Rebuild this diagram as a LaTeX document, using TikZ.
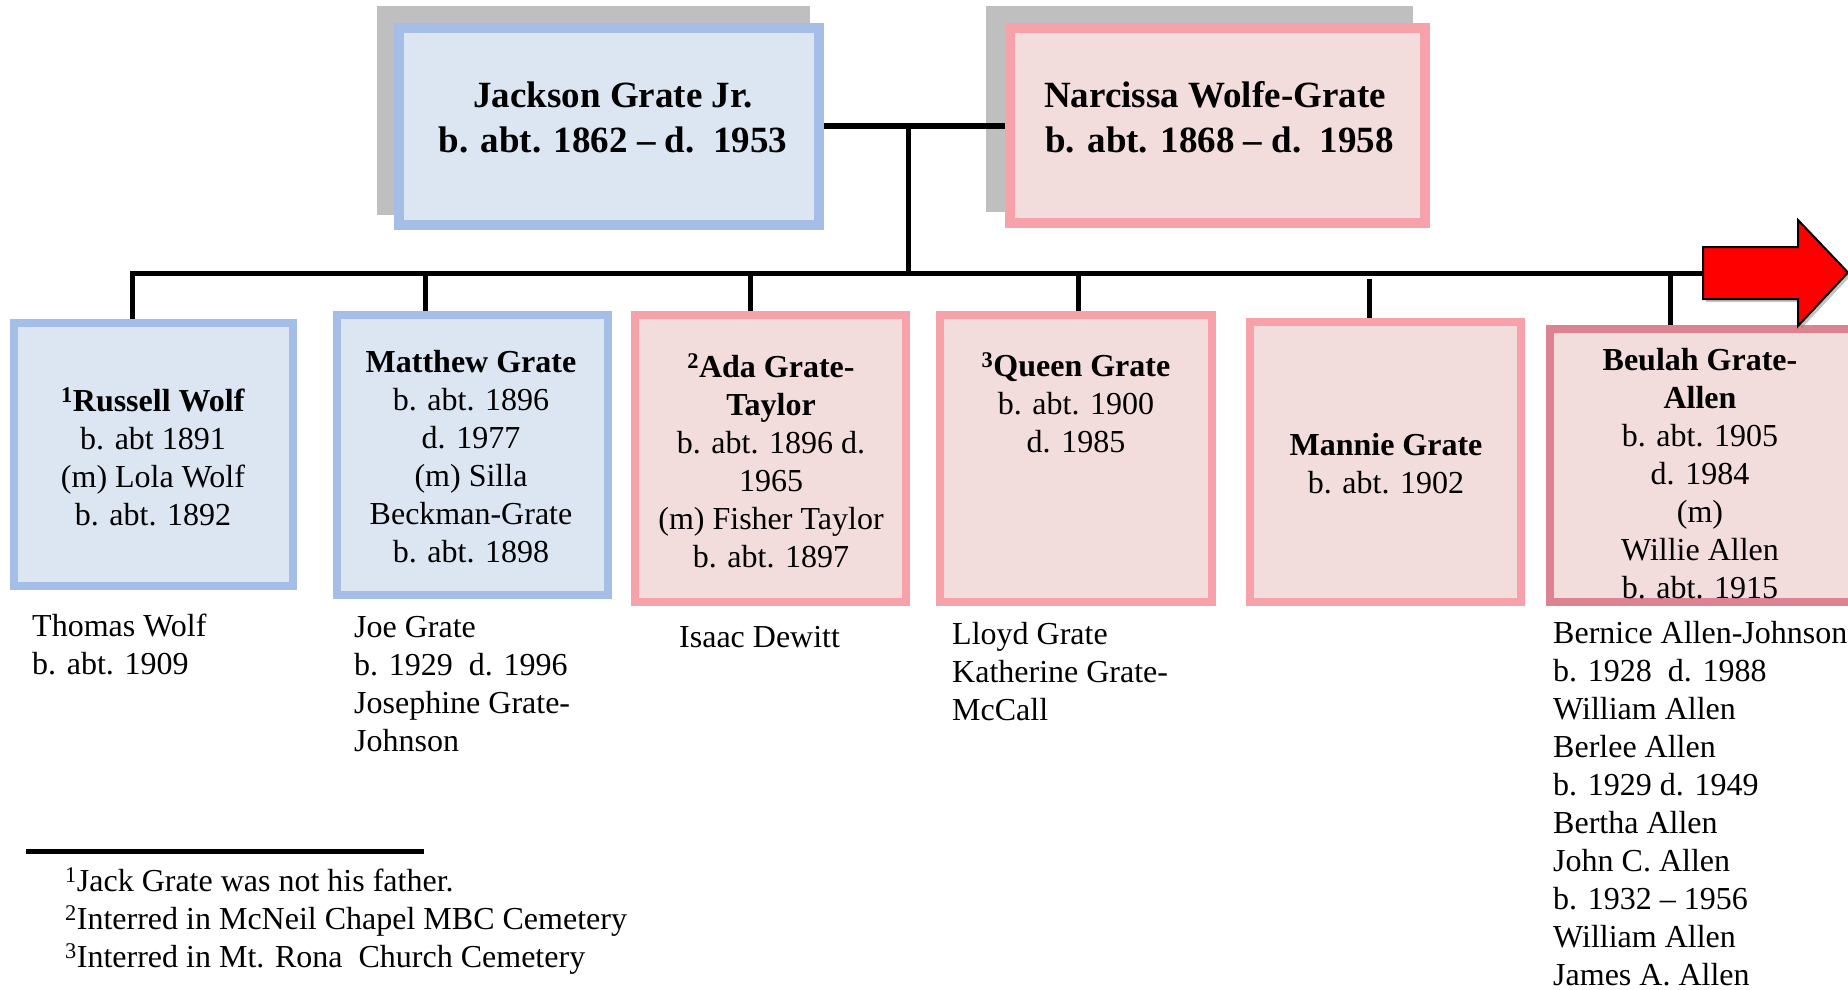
\documentclass[tikz,border=0pt]{standalone}
\usepackage{fontspec}
\setmainfont{Liberation Serif}
\usetikzlibrary{shadows}
\definecolor{shadowgray}{RGB}{191,191,191}
\definecolor{blueborder}{RGB}{164,190,232}
\definecolor{bluefill}{RGB}{220,230,242}
\definecolor{pinkborder}{RGB}{247,161,170}
\definecolor{pinkfill}{RGB}{242,220,220}
\definecolor{darkpink}{RGB}{220,130,145}
\tikzset{
  kidbox/.style={draw, line width=8pt, inner sep=0pt},
  parentbox/.style={draw, line width=10pt, inner sep=0pt},
  bluebox/.style={draw=blueborder, fill=bluefill},
  pinkbox/.style={draw=pinkborder, fill=pinkfill},
  toptext/.style={align=center, inner sep=0pt, font=\fontsize{37}{45}\selectfont\bfseries},
  kidtext/.style={align=center, inner sep=0pt, font=\fontsize{32}{38}\selectfont},
  listtext/.style={align=left, inner sep=0pt, anchor=north west, font=\fontsize{32}{38}\selectfont},
  conn/.style={line width=5pt, black},
}
\begin{document}
\begin{tikzpicture}[x=1pt,y=-1pt]
\clip (0,0) rectangle (1848,990);
\fill[white] (0,0) rectangle (1848,990);
% shadows of parents
\fill[shadowgray] (377,6) rectangle (810,215);
\fill[shadowgray] (986,6) rectangle (1413,212);
% parents
\node[parentbox, bluebox, minimum width=420pt, minimum height=197pt] (jack) at (609,126.5) {};
\node[parentbox, pinkbox, minimum width=415pt, minimum height=195pt] (narc) at (1217.5,125.5) {};
\node[toptext] (jackt) at (613,117) {Jackson Grate Jr.\\b. abt. 1862 -- d.\ \ 1953};
\node[toptext] (narct) at (1215,117) {Narcissa Wolfe-Grate\\\ b. abt. 1868 -- d.\ \ 1958};
% couple line
\coordinate (cpl) at (908,126);
\coordinate (mainL) at (130,273);
\coordinate (mid) at (908,273);
\draw[line width=5.5pt] (jack.east |- cpl) -- (narc.west |- cpl);
\draw[conn] (cpl) -- (mid);
% main line to arrow
\coordinate (arrtail) at (1703,273);
\draw[conn] (mainL) -- (arrtail);
% connectors
\coordinate (c1) at (132,273);
\coordinate (c2) at (425,273);
\coordinate (c3) at (750,273);
\coordinate (c4) at (1078,273);
\coordinate (c5) at (1369,279);
\coordinate (c6) at (1670,273);
% child boxes
\node[kidbox, bluebox, minimum width=279pt, minimum height=263pt] (russ) at (153.5,454.5) {};
\node[kidbox, bluebox, minimum width=271pt, minimum height=280pt] (matt) at (472.5,455) {};
\node[kidbox, pinkbox, minimum width=271pt, minimum height=287pt] (ada) at (770.5,458.5) {};
\node[kidbox, pinkbox, minimum width=272pt, minimum height=287pt] (queen) at (1076,458.5) {};
\node[kidbox, pinkbox, minimum width=271pt, minimum height=280pt] (mannie) at (1385.5,462) {};
\node[kidbox, draw=darkpink, fill=pinkfill, minimum width=306pt, minimum height=273pt] (beulah) at (1703,465.5) {};
\draw[conn] (c1) -- (c1 |- russ.north);
\draw[conn] (c2) -- (c2 |- matt.north);
\draw[conn] (c3) -- (c3 |- ada.north);
\draw[conn] (c4) -- (c4 |- queen.north);
\draw[conn] (c5) -- (c5 |- mannie.north);
\draw[conn] (c6) -- (c6 |- beulah.north);
% arrow
\draw[fill=red, line width=2pt, line join=miter, drop shadow={shadow xshift=3pt, shadow yshift=-3pt, opacity=0.45}]
  (1703,247) -- (1798,247) -- (1798,220) -- (1848,272.5) -- (1798,326) -- (1798,299) -- (1703,299) -- cycle;
% child texts
\node[kidtext] (russt) at (153,457) {\textbf{\textsuperscript{1}Russell Wolf}\\b. abt 1891\\(m) Lola Wolf\\b. abt. 1892};
\node[kidtext] (mattt) at (471,457) {\textbf{Matthew Grate}\\b. abt. 1896\\d. 1977\\(m) Silla\\Beckman-Grate\\b. abt. 1898};
\node[kidtext] (adat) at (771,461) {\textbf{\textsuperscript{2}Ada Grate-}\\\textbf{Taylor}\\b. abt. 1896 d.\\1965\\(m) Fisher Taylor\\b. abt. 1897};
\node[kidtext] (queent) at (1076,403) {\textbf{\textsuperscript{3}Queen Grate}\\b. abt. 1900\\d. 1985};
\node[kidtext] (manniet) at (1386,464) {\textbf{Mannie Grate}\\b. abt. 1902};
\node[kidtext] (beulaht) at (1700,474) {\textbf{Beulah Grate-}\\\textbf{Allen}\\b. abt. 1905\\d. 1984\\(m)\\Willie Allen\\b. abt. 1915};
% lists
\node[listtext] (l1) at (32,614) {Thomas Wolf\\b. abt. 1909};
\node[listtext] (l2) at (354,616) {Joe Grate\\b. 1929\ \ d. 1996\\Josephine Grate-\\Johnson};
\node[listtext] (l3) at (679,626) {Isaac Dewitt};
\node[listtext] (l4) at (952,622) {Lloyd Grate\\Katherine Grate-\\McCall};
\node[listtext] (l5) at (1553,621) {Bernice Allen-Johnson\\b. 1928\ \ d. 1988\\William Allen\\Berlee Allen\\b. 1929 d. 1949\\Bertha Allen\\John C. Allen\\b. 1932 -- 1956\\William Allen\\James A. Allen};
% footnotes
\coordinate (fnL) at (26,851.5);
\coordinate (fnR) at (424,851.5);
\draw[line width=5pt] (fnL) -- (fnR);
\node[listtext] (fn) at (65,867.5) {\textsuperscript{1}Jack Grate was not his father.\\\textsuperscript{2}Interred in McNeil Chapel MBC Cemetery\\\textsuperscript{3}Interred in Mt. Rona\ \ Church Cemetery};
\end{tikzpicture}
\end{document}
